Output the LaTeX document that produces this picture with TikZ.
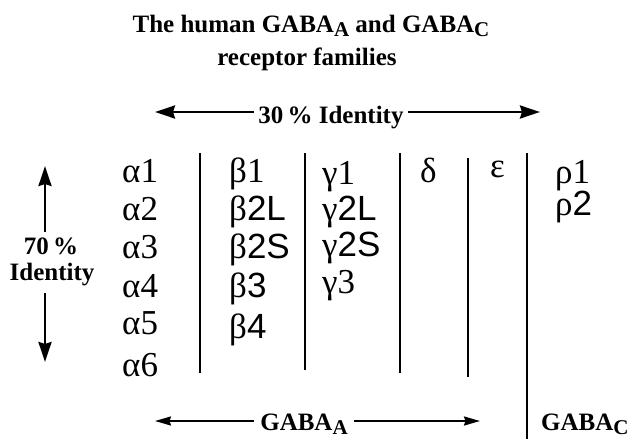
\documentclass[tikz,border=0pt]{standalone}
\usepackage{fontspec}
\setmainfont{Liberation Serif}
\newfontfamily\gsans{Liberation Sans}
\usetikzlibrary{arrows.meta}
\tikzset{
  ttl/.style={font=\fontsize{25}{28}\selectfont\bfseries, inner sep=0pt},
  gr/.style={font=\fontsize{35}{38}\selectfont, anchor=base west, inner sep=0pt},
  sep/.style={line width=1.7pt},
  arr/.style={line width=2.6pt, -{Stealth[length=20pt,width=13pt,inset=2pt]}},
  arrb/.style={line width=2pt, -{Stealth[length=16pt,width=9pt,inset=1.5pt]}},
}
\newcommand{\gs}[1]{{\gsans #1}}
\newcommand{\lsub}[1]{\raisebox{-0.38ex}{\fontsize{21}{22}\selectfont #1}}
\begin{document}
\begin{tikzpicture}[x=1pt,y=-1pt]
\useasboundingbox (0,0) rectangle (637,439);
% title
\node[ttl, anchor=base] (t1) at (311,32) {The human GABA\lsub{A} and GABA\lsub{C}};
\node[ttl, anchor=base] (t2) at (307,65) {receptor families};
% 30% identity
\node[ttl, anchor=base] (id30) at (331,123) {30\,\% Identity};
\coordinate (l30) at (155,112);
\coordinate (r30) at (540,112);
\draw[arr] ([xshift=-4pt]id30.west |- l30) -- (l30);
\draw[arr] ([xshift=4pt]id30.east |- r30) -- (r30);
% 70% identity
\node[ttl, anchor=base] (id70a) at (51,254) {70\,\%};
\node[ttl, anchor=base] (id70b) at (52,280) {Identity};
\coordinate (u70) at (45,166);
\coordinate (d70) at (45,362);
\draw[arr] (45,232) -- (u70);
\draw[arr] (45,293) -- (d70);
% separators
\draw[sep] (200,153) -- (200,373);
\draw[sep] (305,153) -- (305,370);
\draw[sep] (400,153) -- (400,373);
\draw[sep] (468,158) -- (468,377);
\draw[sep] (527,153) -- (527,439);
% alpha
\node[gr] (a1) at (122,182) {α1};
\node[gr] (a2) at (122,220) {α2};
\node[gr] (a3) at (122,258) {α3};
\node[gr] (a4) at (122,297) {α4};
\node[gr] (a5) at (122,334) {α5};
\node[gr] (a6) at (122,376) {α6};
% beta
\node[gr] (b1) at (229,182) {β1};
\node[gr] (b2) at (229,220) {β\gs{2L}};
\node[gr] (b3) at (229,258) {β\gs{2S}};
\node[gr] (b4) at (229,297) {β\gs{3}};
\node[gr] (b5) at (229,338) {β\gs{4}};
% gamma
\node[gr] (g1) at (322,184) {γ1};
\node[gr] (g2) at (322,220) {γ\gs{2L}};
\node[gr] (g3) at (322,256) {γ\gs{2S}};
\node[gr] (g4) at (322,293) {γ3};
% delta, epsilon, rho
\node[gr] (d) at (420,182) {δ};
\node[gr] (e) at (490,177) {ε};
\node[gr] (r1) at (555,183) {ρ1};
\node[gr] (r2) at (555,215) {ρ\gs{2}};
% bottom labels
\node[ttl, anchor=base] (ga) at (304,430) {GABA\lsub{A}};
\coordinate (gal) at (155,421);
\coordinate (gar) at (480,421);
\draw[arrb] ([xshift=-6pt]ga.west |- gal) -- (gal);
\draw[arrb] ([xshift=6pt]ga.east |- gar) -- (gar);
\node[ttl, anchor=base west] (gc) at (541,430) {GABA\lsub{C}};
\end{tikzpicture}
\end{document}
